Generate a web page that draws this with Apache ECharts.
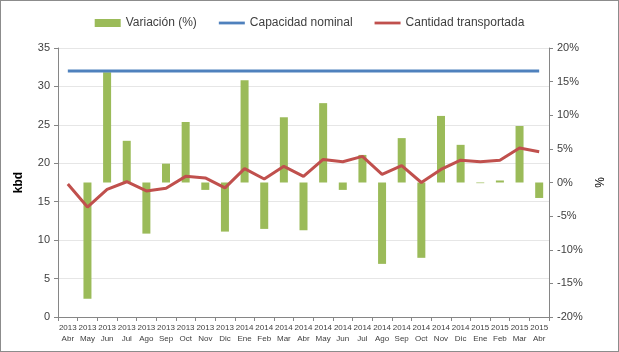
<!DOCTYPE html>
<html>
<head>
<meta charset="utf-8">
<script src="https://cdn.jsdelivr.net/npm/echarts@6/dist/echarts.min.js"></script>
<style>
  html, body { margin: 0; padding: 0; background: #fff; }
  #chart { width: 619px; height: 352px; box-sizing: border-box; border: 1px solid #8c8c8c; }
</style>
</head>
<body>
<div id="chart"></div>
<script>
// meses (Abr 2013 - Abr 2015)
const years = ['2013','2013','2013','2013','2013','2013','2013','2013','2013',
  '2014','2014','2014','2014','2014','2014','2014','2014','2014','2014','2014','2014',
  '2015','2015','2015','2015']
const months = ['Abr','May','Jun','Jul','Ago','Sep','Oct','Nov','Dic',
  'Ene','Feb','Mar','Abr','May','Jun','Jul','Ago','Sep','Oct','Nov','Dic',
  'Ene','Feb','Mar','Abr']

// variación mensual (%)
const variacion = [null, -17.3, 16.4, 6.2, -7.6, 2.8, 9.0, -1.1, -7.3,
  15.2, -6.9, 9.7, -7.1, 11.8, -1.1, 4.1, -12.1, 6.6, -11.2, 9.9, 5.6,
  -0.1, 0.3, 8.4, -2.3]

// capacidad nominal (kbd)
const capacidad = [32, 32, 32, 32, 32, 32, 32, 32, 32, 32, 32, 32, 32,
  32, 32, 32, 32, 32, 32, 32, 32, 32, 32, 32, 32]

// cantidad transportada (kbd)
const transportada = [17.3, 14.3, 16.6, 17.6, 16.4, 16.75, 18.3, 18.1, 16.8,
  19.3, 17.95, 19.6, 18.3, 20.5, 20.2, 20.9, 18.55, 19.7, 17.5, 19.2, 20.4,
  20.2, 20.4, 22.0, 21.5]

const categories = years.map((y, i) => y + '\n' + months[i])

const font = 'Liberation Sans, Arial, sans-serif'
const myChart = echarts.init(document.getElementById('chart'))

const option = {
  animation: false,
  textStyle: { fontFamily: font },
  legend: {
    top: 11,
    left: 'center',
    itemGap: 22,
    itemWidth: 26,
    itemHeight: 8,
    textStyle: { fontSize: 12, color: '#404040', fontFamily: font },
    data: [
      { name: 'Variación (%)', icon: 'rect' },
      { name: 'Capacidad nominal', icon: 'path://M0,0H28V3H0Z' },
      { name: 'Cantidad transportada', icon: 'path://M0,0H28V3H0Z' }
    ]
  },
  grid: { left: 57, right: 69, top: 47, bottom: 34 },
  xAxis: {
    type: 'category',
    data: categories,
    boundaryGap: true,
    axisLine: { lineStyle: { color: '#868686' } },
    axisTick: { show: true, alignWithLabel: false, length: 4, lineStyle: { color: '#868686' } },
    axisLabel: { interval: 0, fontSize: 8, color: '#404040', lineHeight: 11, margin: 5 }
  },
  yAxis: [
    {
      type: 'value',
      name: 'kbd',
      nameLocation: 'middle',
      nameGap: 33,
      nameRotate: 90,
      nameTextStyle: { fontWeight: 'bold', fontSize: 12, color: '#000' },
      min: 0, max: 35, interval: 5,
      axisLine: { show: true, lineStyle: { color: '#868686' } },
      axisTick: { show: true, length: 4, lineStyle: { color: '#868686' } },
      axisLabel: { fontSize: 11, color: '#404040', margin: 8 },
      splitLine: { lineStyle: { color: '#e6e6e6' } }
    },
    {
      type: 'value',
      name: '%',
      nameLocation: 'middle',
      nameGap: 46,
      nameRotate: 90,
      nameTextStyle: { fontSize: 12, color: '#000' },
      min: -20, max: 20, interval: 5,
      axisLine: { show: true, lineStyle: { color: '#868686' } },
      axisTick: { show: true, length: 4, lineStyle: { color: '#868686' } },
      axisLabel: { fontSize: 11, color: '#404040', margin: 8, formatter: '{value}%' },
      splitLine: { show: false }
    }
  ],
  series: [
    {
      name: 'Variación (%)',
      type: 'bar',
      yAxisIndex: 1,
      data: variacion,
      barWidth: 8,
      itemStyle: { color: '#9BBB59' }
    },
    {
      name: 'Capacidad nominal',
      type: 'line',
      yAxisIndex: 0,
      data: capacidad,
      symbol: 'none',
      lineStyle: { color: '#4F81BD', width: 3 },
      itemStyle: { color: '#4F81BD' }
    },
    {
      name: 'Cantidad transportada',
      type: 'line',
      yAxisIndex: 0,
      data: transportada,
      symbol: 'none',
      lineStyle: { color: '#C0504D', width: 3 },
      itemStyle: { color: '#C0504D' }
    }
  ]
}

myChart.setOption(option)
window.addEventListener('resize', () => {
  myChart.resize()
})
</script>
</body>
</html>
